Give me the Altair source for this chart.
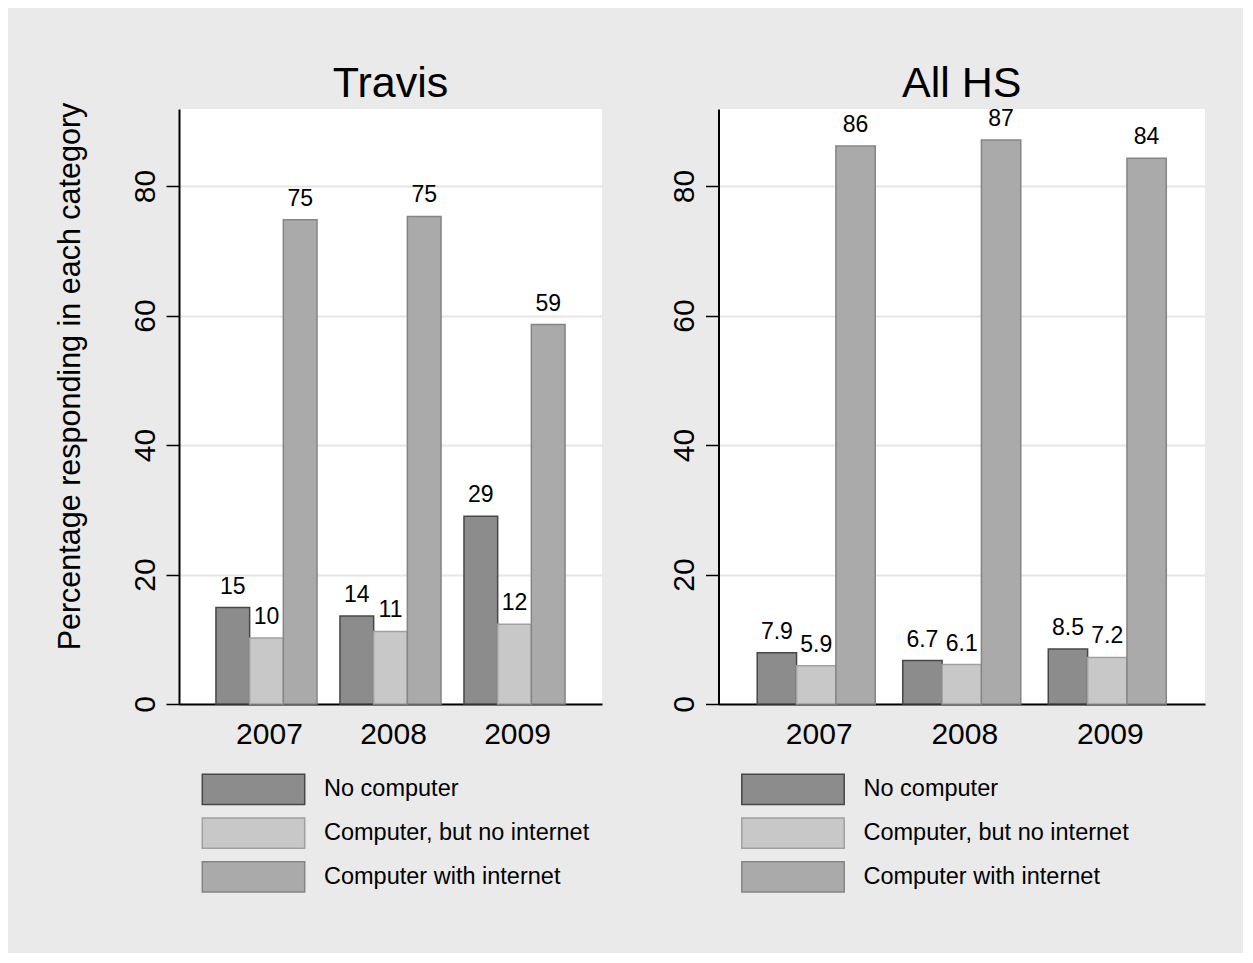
import altair as alt
import pandas as pd

years = ["2007", "2008", "2009"]
categories = ["No computer", "Computer, but no internet", "Computer with internet"]
panels = ["Travis", "All HS"]

travis_no_computer = [14.9, 13.6, 29.0]
travis_no_internet = [10.2, 11.2, 12.3]
travis_with_internet = [74.8, 75.3, 58.6]

allhs_no_computer = [7.9, 6.7, 8.5]
allhs_no_internet = [5.9, 6.1, 7.2]
allhs_with_internet = [86.2, 87.1, 84.3]

y_ticks = [0, 20, 40, 60, 80]
y_title = "Percentage responding in each category"

fill_colors = ["#8C8C8C", "#C8C8C8", "#AAAAAA"]
stroke_colors = ["#474747", "#A0A0A0", "#858585"]

FONT = "Liberation Sans"
Y_MAX = 91.9


def panel_frame(series):
    rows = []
    for cat, vals in zip(categories, series):
        for yr, v in zip(years, vals):
            rows.append({"year": yr, "category": cat, "value": v})
    return pd.DataFrame(rows)


color_enc = alt.Color("category:N", sort=categories,
                      scale=alt.Scale(domain=categories, range=fill_colors), legend=None)
stroke_enc = alt.Stroke("category:N", sort=categories,
                        scale=alt.Scale(domain=categories, range=stroke_colors), legend=None)


def bar_panel(df, title, width, pad_inner, pad_outer, show_title, title_dy):
    x = alt.X("year:N", sort=years, title=None,
              scale=alt.Scale(paddingInner=pad_inner, paddingOuter=pad_outer),
              axis=alt.Axis(labelFontSize=30, labelFont=FONT, labelColor="black",
                            labelPadding=15, labelOffset=3, ticks=False, tickSize=0,
                            domainColor="black", domainWidth=2, labelAngle=0, grid=False))
    xoff = alt.XOffset("category:N", sort=categories,
                       scale=alt.Scale(paddingInner=0, paddingOuter=0))
    axis_kw = dict(values=y_ticks, labelFontSize=30, labelFont=FONT, labelColor="black",
                   labelAngle=270, labelAlign="center", labelBaseline="bottom",
                   labelPadding=6, tickSize=13, tickColor="black", tickWidth=1.5,
                   domainColor="black", domainWidth=2, grid=True, gridColor="#E6E6E6",
                   gridWidth=2)
    if show_title:
        axis_kw.update(titleFontSize=30.5, titleFont=FONT, titleFontWeight="normal",
                       titleColor="black", titlePadding=45, titleY=267)
    y = alt.Y("value:Q", title=y_title if show_title else "",
              scale=alt.Scale(domain=[0, Y_MAX], nice=False),
              axis=alt.Axis(**axis_kw))
    bars = alt.Chart(df).mark_bar(strokeWidth=1.5).encode(
        x=x, xOffset=xoff, y=y, color=color_enc, stroke=stroke_enc)
    labels = alt.Chart(df).mark_text(fontSize=23, font=FONT, color="black",
                                     baseline="alphabetic", dy=-14).encode(
        x=x, xOffset=xoff, y=alt.Y("value:Q"), text=alt.Text("value:Q", format=".2r"))
    return alt.layer(bars, labels).properties(
        width=width, height=595,
        view=alt.ViewBackground(fill="white", strokeWidth=0),
        title=alt.TitleParams(text=title, fontSize=43, font=FONT, fontWeight="normal",
                              color="black", anchor="middle", offset=2, dy=title_dy))


def legend_panel(width):
    df = pd.DataFrame({"category": categories})
    y = alt.Y("category:N", sort=categories, axis=None,
              scale=alt.Scale(paddingInner=0.31, paddingOuter=0))
    swatch = alt.Chart(df).mark_rect(strokeWidth=1.5).encode(
        y=y, x=alt.value(23.3), x2=alt.value(125.7), color=color_enc, stroke=stroke_enc)
    text = alt.Chart(df).mark_text(align="left", baseline="middle", fontSize=23.5,
                                   font=FONT, color="black").encode(
        y=y, x=alt.value(145), text="category:N")
    return alt.layer(swatch, text).properties(width=width, height=117.6)


travis = panel_frame([travis_no_computer, travis_no_internet, travis_with_internet])
allhs = panel_frame([allhs_no_computer, allhs_no_internet, allhs_with_internet])

left_w = 423
right_w = 486.5

chart = alt.concat(
    bar_panel(travis, panels[0], left_w, 0.185, 0.298, True, 6),
    bar_panel(allhs, panels[1], right_w, 0.189, 0.266, False, 0),
    legend_panel(left_w),
    legend_panel(right_w),
    columns=2, bounds="flush", align="each",
    spacing=alt.RowColnumber(row=70.3, column=116.5),
).resolve_scale(
    x="independent", xOffset="independent", y="independent"
).configure(
    background="#EAEAEA",
    padding={"left": 46, "top": 55, "right": 38, "bottom": 60},
).configure_view(strokeWidth=0)

chart.save("out.html", embed_options={"renderer": "svg", "actions": False})
